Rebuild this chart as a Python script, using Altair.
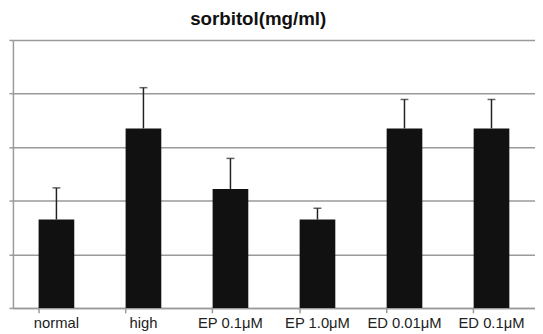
import altair as alt
import pandas as pd

categories = ["normal", "high", "EP 0.1\u03bcM", "EP 1.0\u03bcM", "ED 0.01\u03bcM", "ED 0.1\u03bcM"]
values = [1.65, 3.35, 2.22, 1.65, 3.35, 3.35]
err_top = [2.24, 4.11, 2.79, 1.86, 3.89, 3.89]

df = pd.DataFrame({"cat": categories, "val": values, "err": err_top})

FONT = "Liberation Sans"

x = alt.X("cat:N", sort=categories, title=None,
          scale=alt.Scale(paddingInner=0.59, paddingOuter=0.295),
          axis=alt.Axis(labelAngle=0, labelFontSize=15, labelFont=FONT, labelColor="#222",
                        domainColor="#9a9a9a", domainWidth=1.5, tickColor="#9a9a9a",
                        tickWidth=1.5, tickSize=5, bandPosition=0, labelPadding=3,
                        grid=False))
y = alt.Y("val:Q", title=None,
          scale=alt.Scale(domain=[0, 5], nice=False),
          axis=alt.Axis(values=[0, 1, 2, 3, 4, 5], labels=False, tickSize=4,
                        tickColor="#9a9a9a", tickWidth=1.5, domainColor="#9a9a9a",
                        domainWidth=1.5, gridColor="#9a9a9a", gridWidth=1.5))

base = alt.Chart(df)
bars = base.mark_bar(color="#111111").encode(x=x, y=y)
rule = base.mark_rule(color="#222222", strokeWidth=1.5).encode(x=alt.X("cat:N", sort=categories), y="val:Q", y2="err:Q")
cap = base.mark_tick(color="#222222", thickness=1.5, size=8, orient="horizontal").encode(
    x=alt.X("cat:N", sort=categories), y="err:Q")

chart = alt.layer(bars, rule, cap).properties(
    width=530, height=272,
    autosize=alt.AutoSizeParams(type="none"),
    padding={"left": 5, "top": 30, "right": 0, "bottom": 23},
    title=alt.Title("sorbitol(mg/ml)", font=FONT, fontSize=19, fontWeight="bold",
                    color="#111", anchor="middle", dx=-16, offset=10),
).configure_view(stroke=None)

chart.save("out.html", embed_options={"renderer": "svg", "actions": False})
